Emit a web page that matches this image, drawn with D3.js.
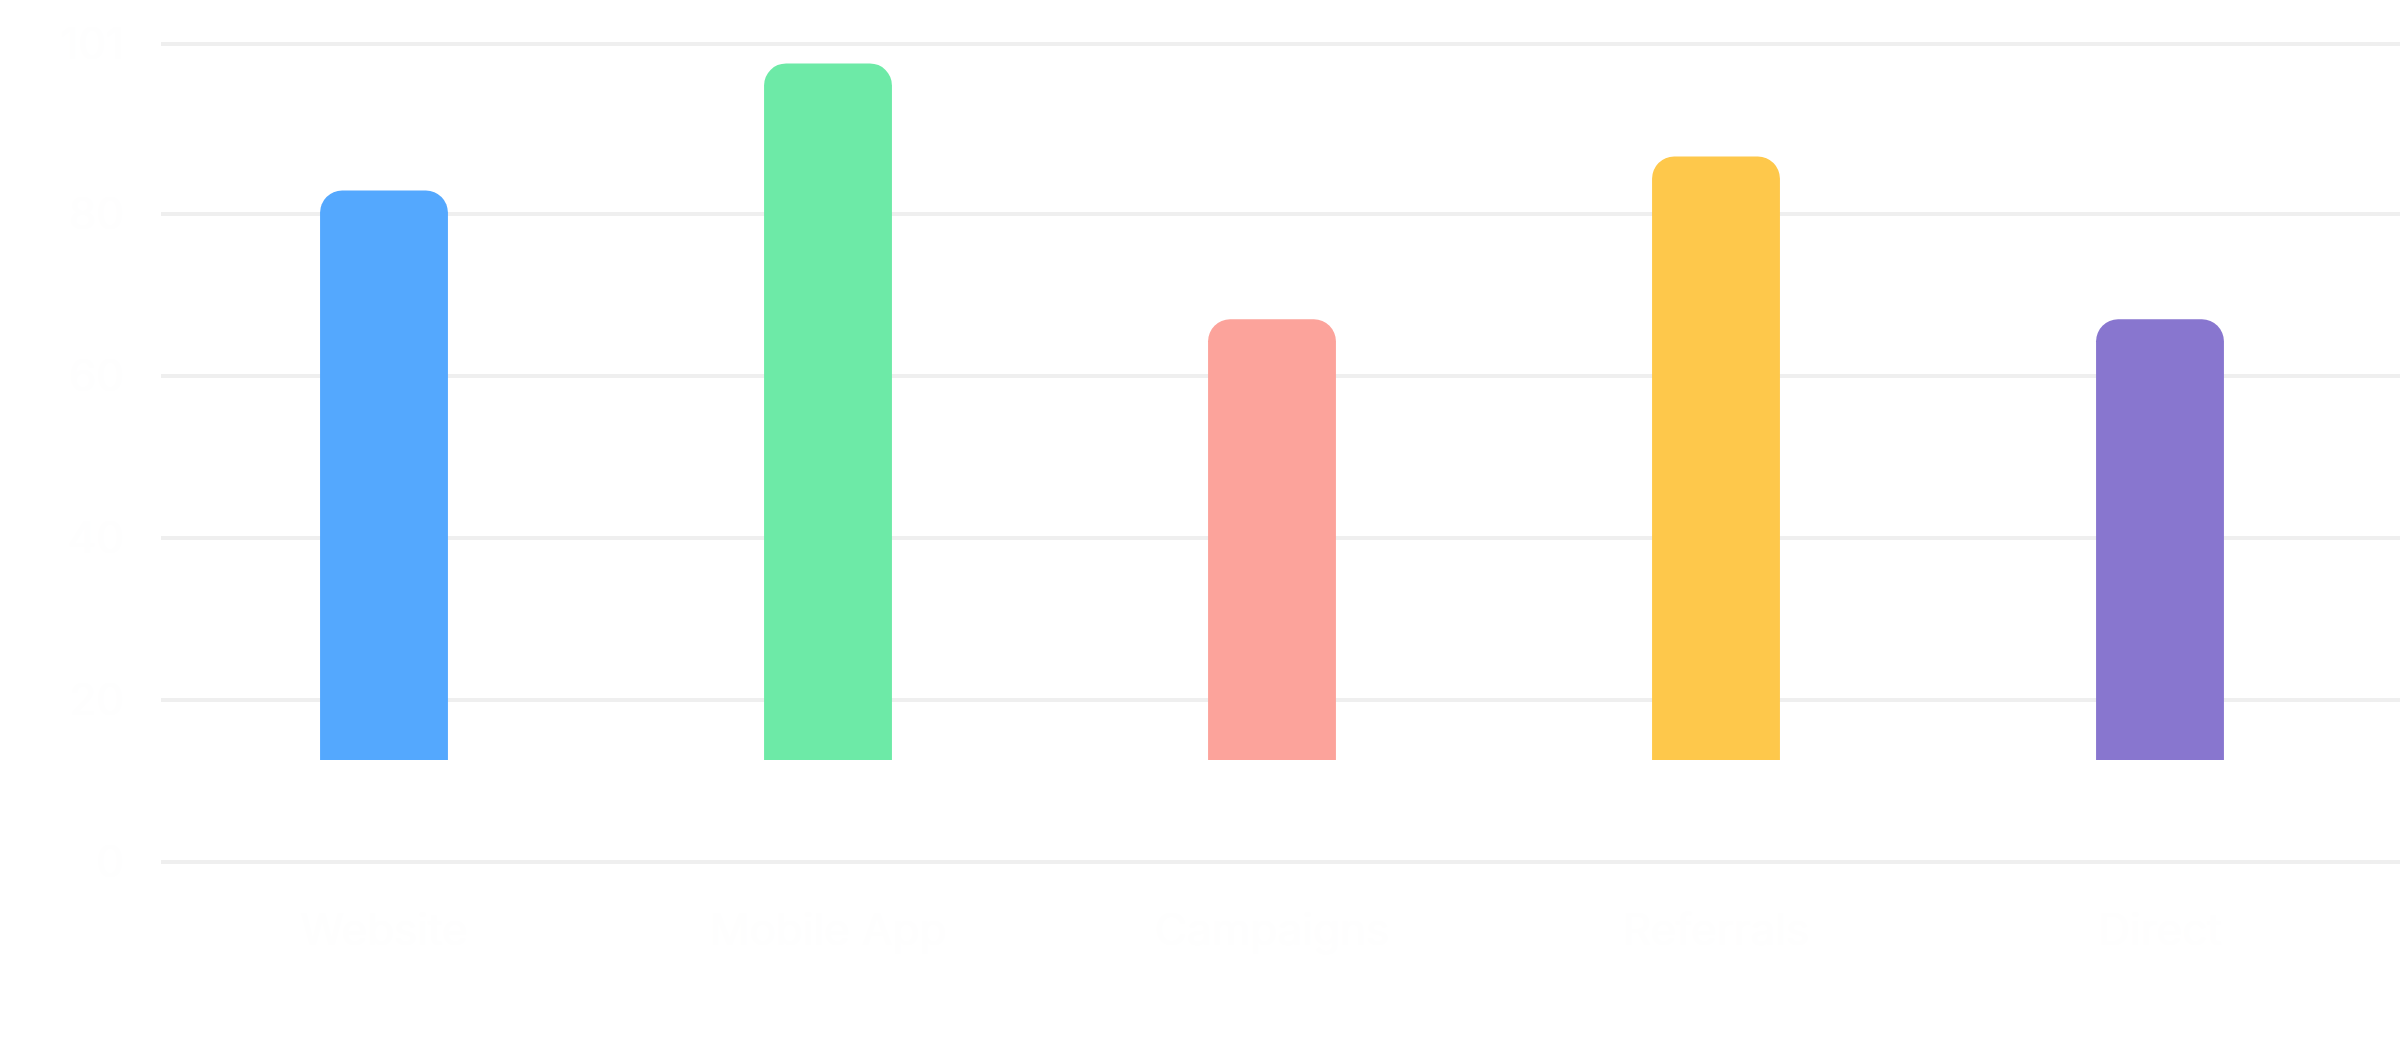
<!DOCTYPE html>
<html>
<head>
<meta charset="utf-8">
<script src="https://cdn.jsdelivr.net/npm/d3@7"></script>
<style>
    html, body { margin: 0; padding: 0; background: #ffffff; }
    #chart { display: block; }
    .grid line { stroke: #efefef; stroke-width: 4; }
    .tick-label { font-family: "Inter", sans-serif; font-size: 44px; fill: #fefefe; }
</style>
</head>
<body>
<svg id="chart" width="2400" height="1040"></svg>
<script>
// data
const categories = ["Website", "Mobile App", "Campaigns", "Referrals", "Direct"];
const barLow = [12.6, 12.6, 12.6, 12.6, 12.6];
const barHigh = [82.9, 98.6, 67.0, 87.1, 67.0];
const barColors = ["#54a8fe", "#6deaa7", "#fca39b", "#fec84b", "#8876cf"];
const yTicks = [0, 20, 40, 60, 80, 101];

const width = 2400;
const margin = { top: 44, right: 18, bottom: 178, left: 162 };
const svg = d3.select("#chart");

const x = d3.scaleBand()
    .domain(categories)
    .range([margin.left, width - margin.right])
    .paddingInner(0.712)
    .paddingOuter(0.356);

const y = d3.scaleLinear()
    .domain([0, 101])
    .range([1040 - margin.bottom, margin.top]);

// gridlines
svg.append("g")
    .attr("class", "grid")
    .selectAll("line")
    .data(yTicks)
    .join("line")
    .attr("x1", margin.left - 1)
    .attr("x2", width)
    .attr("y1", d => y(d))
    .attr("y2", d => y(d));

// y labels (almost white in the reference)
svg.append("g")
    .selectAll("text")
    .data(yTicks)
    .join("text")
    .attr("class", "tick-label")
    .attr("x", 124)
    .attr("y", d => y(d))
    .attr("dy", "0.35em")
    .attr("text-anchor", "end")
    .text(d => d);

// x labels
svg.append("g")
    .selectAll("text")
    .data(categories)
    .join("text")
    .attr("class", "tick-label")
    .attr("x", d => x(d) + x.bandwidth() / 2)
    .attr("y", 945)
    .attr("text-anchor", "middle")
    .text(d => d);

// bars with rounded top corners
function topRounded(x0, y0, w, h, r) {
    return `M${x0},${y0 + h}` +
        `V${y0 + r}` +
        `A${r},${r} 0 0 1 ${x0 + r},${y0}` +
        `H${x0 + w - r}` +
        `A${r},${r} 0 0 1 ${x0 + w},${y0 + r}` +
        `V${y0 + h}Z`;
}

svg.append("g")
    .selectAll("path")
    .data(categories)
    .join("path")
    .attr("fill", (d, i) => barColors[i])
    .attr("d", (d, i) => {
        const top = y(barHigh[i]);
        const bottom = y(barLow[i]);
        return topRounded(x(d), top, x.bandwidth(), bottom - top, 22);
    });
</script>
</body>
</html>
